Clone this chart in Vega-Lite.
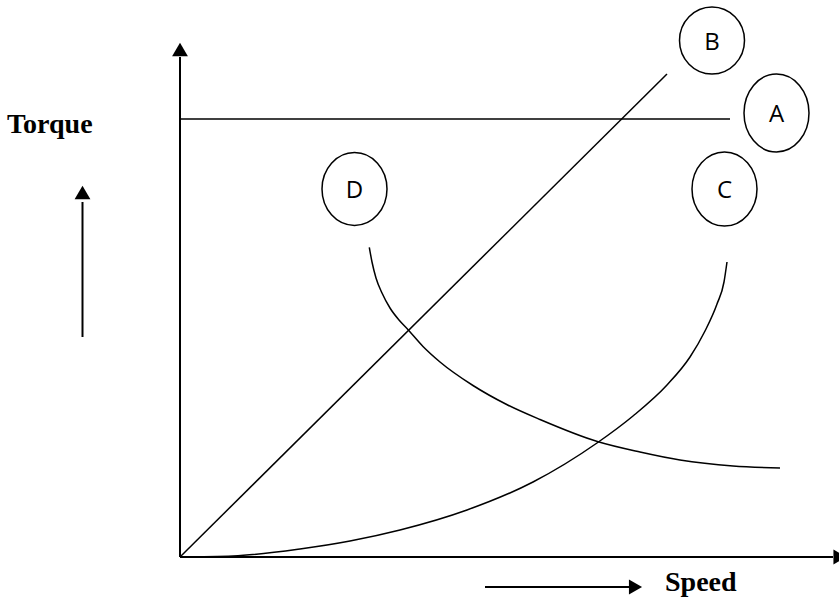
{
  "$schema": "https://vega.github.io/schema/vega-lite/v6.json",
  "width": 839,
  "height": 601,
  "autosize": "none",
  "padding": 0,
  "background": "white",
  "config": {"view": {"stroke": null}},
  "datasets": {
    "axes": [
      {"seg": "torque axis", "x": 0, "y": 0, "x2": 0, "y2": 100},
      {"seg": "speed axis", "x": 0, "y": 0, "x2": 130.6, "y2": 0},
      {"seg": "torque pointer", "x": -19.5, "y": 44, "x2": -19.5, "y2": 71},
      {"seg": "speed pointer", "x": 61, "y": -6, "x2": 90, "y2": -6}
    ],
    "straight": [
      {"curve": "A", "x": 0, "y": 87.6, "x2": 110, "y2": 87.6},
      {"curve": "B", "x": 0, "y": 0, "x2": 97.4, "y2": 96.6}
    ],
    "curves": [
      {"curve": "C", "speed": 0, "torque": 0},
      {"curve": "C", "speed": 10.6, "torque": 0.2},
      {"curve": "C", "speed": 24, "torque": 1.6},
      {"curve": "C", "speed": 34, "torque": 3.2},
      {"curve": "C", "speed": 44, "torque": 5.4},
      {"curve": "C", "speed": 57.4, "torque": 9.4},
      {"curve": "C", "speed": 70.6, "torque": 15},
      {"curve": "C", "speed": 83.4, "torque": 22.8},
      {"curve": "C", "speed": 90.6, "torque": 28.2},
      {"curve": "C", "speed": 97.4, "torque": 34.4},
      {"curve": "C", "speed": 102, "torque": 40},
      {"curve": "C", "speed": 105, "torque": 45.2},
      {"curve": "C", "speed": 107.4, "torque": 50.6},
      {"curve": "C", "speed": 108.8, "torque": 55},
      {"curve": "C", "speed": 109.4, "torque": 59},
      {"curve": "D", "speed": 37.86, "torque": 61.94},
      {"curve": "D", "speed": 38.4, "torque": 59},
      {"curve": "D", "speed": 39.2, "torque": 55.8},
      {"curve": "D", "speed": 40.4, "torque": 52.8},
      {"curve": "D", "speed": 42, "torque": 49.8},
      {"curve": "D", "speed": 43.8, "torque": 47.4},
      {"curve": "D", "speed": 45.66, "torque": 45.4},
      {"curve": "D", "speed": 48.6, "torque": 42.1},
      {"curve": "D", "speed": 52, "torque": 39},
      {"curve": "D", "speed": 58.6, "torque": 34.3},
      {"curve": "D", "speed": 65.34, "torque": 30.5},
      {"curve": "D", "speed": 72, "torque": 27.5},
      {"curve": "D", "speed": 83.46, "torque": 23.1},
      {"curve": "D", "speed": 92, "torque": 21},
      {"curve": "D", "speed": 100, "torque": 19.4},
      {"curve": "D", "speed": 110.6, "torque": 18.2},
      {"curve": "D", "speed": 120, "torque": 17.8}
    ],
    "headsUp": [
      {"head": "torque axis", "x": 0, "y": 101.5},
      {"head": "torque pointer", "x": -19.5, "y": 72.9}
    ],
    "headsRight": [
      {"head": "speed axis", "x": 132, "y": 0},
      {"head": "speed pointer", "x": 91.1, "y": -6}
    ],
    "labels": [
      {"lbl": "A", "x": 119.3, "y": 88.8},
      {"lbl": "B", "x": 106.4, "y": 103.3},
      {"lbl": "C", "x": 108.9, "y": 73.6},
      {"lbl": "D", "x": 34.9, "y": 73.6}
    ],
    "titles": [
      {"t": "Torque", "x": -34.6, "y": 84.8},
      {"t": "Speed", "x": 97, "y": -6.8}
    ]
  },
  "layer": [
    {
      "data": {"name": "axes"},
      "mark": {"type": "rule", "color": "black", "strokeWidth": 2},
      "encoding": {
        "x": {"field": "x", "type": "quantitative", "axis": null, "scale": {"domain": [-36, 131.8], "nice": false, "zero": false}},
        "y": {"field": "y", "type": "quantitative", "axis": null, "scale": {"domain": [-8.8, 111.4], "nice": false, "zero": false}},
        "x2": {"field": "x2"},
        "y2": {"field": "y2"}
      }
    },
    {
      "data": {"name": "straight"},
      "mark": {"type": "rule", "color": "black", "strokeWidth": 1.5},
      "encoding": {
        "x": {"field": "x", "type": "quantitative", "axis": null, "scale": {"domain": [-36, 131.8], "nice": false, "zero": false}},
        "y": {"field": "y", "type": "quantitative", "axis": null, "scale": {"domain": [-8.8, 111.4], "nice": false, "zero": false}},
        "x2": {"field": "x2"},
        "y2": {"field": "y2"}
      }
    },
    {
      "data": {"name": "curves"},
      "mark": {"type": "line", "color": "black", "strokeWidth": 1.5, "interpolate": "monotone"},
      "encoding": {
        "x": {"field": "speed", "type": "quantitative", "axis": null, "scale": {"domain": [-36, 131.8], "nice": false, "zero": false}},
        "y": {"field": "torque", "type": "quantitative", "axis": null, "scale": {"domain": [-8.8, 111.4], "nice": false, "zero": false}},
        "detail": {"field": "curve", "type": "nominal"}
      }
    },
    {
      "data": {"name": "headsUp"},
      "mark": {"type": "point", "shape": "triangle-up", "filled": true, "color": "black", "opacity": 1, "size": 250},
      "encoding": {
        "x": {"field": "x", "type": "quantitative", "axis": null, "scale": {"domain": [-36, 131.8], "nice": false, "zero": false}},
        "y": {"field": "y", "type": "quantitative", "axis": null, "scale": {"domain": [-8.8, 111.4], "nice": false, "zero": false}}
      }
    },
    {
      "data": {"name": "headsRight"},
      "mark": {"type": "point", "shape": "triangle-right", "filled": true, "color": "black", "opacity": 1, "size": 230},
      "encoding": {
        "x": {"field": "x", "type": "quantitative", "axis": null, "scale": {"domain": [-36, 131.8], "nice": false, "zero": false}},
        "y": {"field": "y", "type": "quantitative", "axis": null, "scale": {"domain": [-8.8, 111.4], "nice": false, "zero": false}}
      }
    },
    {
      "data": {"name": "labels"},
      "mark": {"type": "point", "filled": false, "stroke": "black", "strokeWidth": 1.5, "opacity": 1, "size": 4225},
      "encoding": {
        "x": {"field": "x", "type": "quantitative", "axis": null, "scale": {"domain": [-36, 131.8], "nice": false, "zero": false}},
        "y": {"field": "y", "type": "quantitative", "axis": null, "scale": {"domain": [-8.8, 111.4], "nice": false, "zero": false}},
        "shape": {
          "field": "lbl",
          "type": "nominal",
          "legend": null,
          "scale": {
            "domain": ["A", "B", "C", "D"],
            "range": [
              "M0,-1.2C0.5523,-1.2,1,-0.6628,1,0C1,0.6628,0.5523,1.2,0,1.2C-0.5523,1.2,-1,0.6628,-1,0C-1,-0.6628,-0.5523,-1.2,0,-1.2Z",
              "M0,-1.03C0.5523,-1.03,1,-0.5689,1,0C1,0.5689,0.5523,1.03,0,1.03C-0.5523,1.03,-1,0.5689,-1,0C-1,-0.5689,-0.5523,-1.03,0,-1.03Z",
              "M0,-1.14C0.5523,-1.14,1,-0.6296,1,0C1,0.6296,0.5523,1.14,0,1.14C-0.5523,1.14,-1,0.6296,-1,0C-1,-0.6296,-0.5523,-1.14,0,-1.14Z",
              "M0,-1.12C0.5523,-1.12,1,-0.6186,1,0C1,0.6186,0.5523,1.12,0,1.12C-0.5523,1.12,-1,0.6186,-1,0C-1,-0.6186,-0.5523,-1.12,0,-1.12Z"
            ]
          }
        }
      }
    },
    {
      "data": {"name": "labels"},
      "mark": {"type": "text", "font": "Open Sans", "fontSize": 24, "color": "black", "align": "center", "baseline": "middle", "dy": 2},
      "encoding": {
        "x": {"field": "x", "type": "quantitative", "axis": null, "scale": {"domain": [-36, 131.8], "nice": false, "zero": false}},
        "y": {"field": "y", "type": "quantitative", "axis": null, "scale": {"domain": [-8.8, 111.4], "nice": false, "zero": false}},
        "text": {"field": "lbl", "type": "nominal"}
      }
    },
    {
      "data": {"name": "titles"},
      "mark": {"type": "text", "font": "Liberation Serif", "fontWeight": "bold", "fontSize": 28, "color": "black", "align": "left", "baseline": "alphabetic"},
      "encoding": {
        "x": {"field": "x", "type": "quantitative", "axis": null, "scale": {"domain": [-36, 131.8], "nice": false, "zero": false}},
        "y": {"field": "y", "type": "quantitative", "axis": null, "scale": {"domain": [-8.8, 111.4], "nice": false, "zero": false}},
        "text": {"field": "t", "type": "nominal"}
      }
    }
  ]
}
